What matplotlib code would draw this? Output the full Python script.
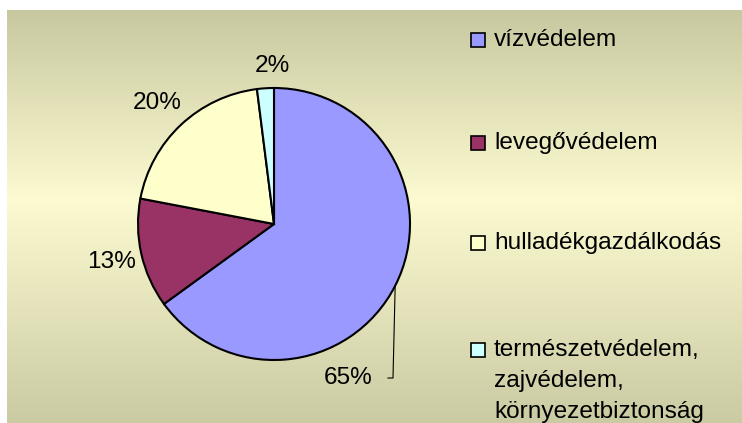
import numpy as np
import matplotlib
matplotlib.use("Agg")
import matplotlib.pyplot as plt
from matplotlib.patches import Rectangle

categories = ["vízvédelem", "levegővédelem", "hulladékgazdálkodás",
              "természetvédelem,\nzajvédelem,\nkörnyezetbiztonság"]
values = [65, 13, 20, 2]
pct_labels = ["65%", "13%", "20%", "2%"]
colors = ["#9999FF", "#993366", "#FFFFCC", "#CCFFFF"]

W, H = 742, 423
fig = plt.figure(figsize=(W / 100, H / 100), dpi=100)
fig.patch.set_facecolor("white")
plt.rcParams['font.family'] = ['Liberation Sans', 'DejaVu Sans']

# background gradient panel
bg = fig.add_axes([7 / W, 0, 1 - 7 / W, (H - 10) / H])
bg.set_axis_off()
top = np.array([200, 200, 160]) / 255
mid = np.array([252, 250, 208]) / 255
bot = np.array([202, 202, 163]) / 255
n = 413
t = np.linspace(0, 1, n)
midpos = 0.46
grad = np.zeros((n, 1, 3))
for i, tt in enumerate(t):
    if tt < midpos:
        f = tt / midpos
        grad[i, 0] = top * (1 - f) + mid * f
    else:
        f = (tt - midpos) / (1 - midpos)
        grad[i, 0] = mid * (1 - f) + bot * f
bg.imshow(grad, aspect="auto", extent=[0, 1, 0, 1], origin="upper")
bg.set_xlim(0, 1)
bg.set_ylim(0, 1)

# pie axes in pixel coordinates
ax = fig.add_axes([0, 0, 1, 1])
ax.patch.set_alpha(0)

cx, cy, r = 274, H - 224, 136
wedges, _ = ax.pie(values, colors=colors, startangle=90, counterclock=False,
                   center=(cx, cy), radius=r, frame=True,
                   wedgeprops=dict(edgecolor="black", linewidth=1.5))
ax.set_xlim(0, W)
ax.set_ylim(0, H)
ax.set_axis_off()

fs = 17.6
label_pos = [(348, 378), (112, 262), (157, 103), (272, 66)]
for (lx, ly), txt in zip(label_pos, pct_labels):
    ax.text(lx, H - ly, txt, fontsize=fs, ha="center", va="center", color="black")

# leader line for first wedge (at mid angle)
w0 = wedges[0]
mid_ang = np.deg2rad((w0.theta1 + w0.theta2) / 2)
ex, ey = cx + r * np.cos(mid_ang), cy + r * np.sin(mid_ang)
ax.plot([388, 393, ex], [H - 378, H - 378, ey], color="black", linewidth=0.8)

# legend (manual, Excel-style)
leg_y = [40, 143, 243, 350]
for yy, lab, col in zip(leg_y, categories, colors):
    ax.add_patch(Rectangle((471, H - yy - 7), 14, 14, facecolor=col,
                           edgecolor="black", linewidth=1.2))
    for k, ln in enumerate(lab.split("\n")):
        ax.text(494, H - yy - 31 * k, ln, fontsize=fs, ha="left", va="center",
                color="black")

fig.savefig("out.png", dpi=100)
